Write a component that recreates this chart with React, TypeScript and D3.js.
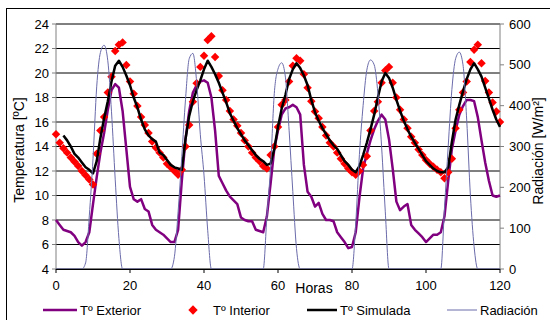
import * as d3 from "d3";
import React from "react";

// hourly series, 0..120 h
const hours = d3.range(0, 121);

const tExterior = [
  8.0, 7.6, 7.2, 7.1, 7.0, 6.7, 6.2, 5.9, 6.2, 7.0,
  9.3, 11.5, 13.5, 15.1, 17.0, 18.6, 19.1, 18.8, 16.9, 13.8,
  10.7, 9.7, 9.5, 9.7, 8.9, 8.7, 7.6, 7.2, 7.0, 6.8,
  6.5, 6.2, 6.2, 7.2, 11.2, 14.6, 16.9, 18.4, 19.0, 19.3,
  19.4, 19.2, 18.0, 15.3, 11.6, 11.0, 10.4, 9.9, 9.6, 9.3,
  8.2, 8.0, 7.9, 7.9, 7.2, 7.1, 7.0, 8.3, 11.0, 13.8,
  15.3, 16.6, 17.1, 17.2, 17.4, 17.2, 16.6, 12.5, 10.3, 9.9,
  9.1, 9.4, 8.5, 8.0, 8.0, 7.9, 7.0, 6.6, 6.2, 5.7,
  5.8, 7.0, 9.8, 12.2, 13.4, 14.5, 15.4, 16.1, 16.6, 16.2,
  14.6, 12.2, 9.5, 8.8, 9.1, 9.3, 7.6, 7.2, 6.9, 6.6,
  6.2, 6.5, 6.8, 6.8, 7.0, 8.3, 11.2, 13.8, 15.3, 16.6,
  17.3, 17.8, 17.8, 17.7, 16.4, 14.5, 12.7, 11.2, 10.0, 9.9,
  10.0,
];

const tInterior = [
  15.0, 14.3, 13.85, 13.5, 13.1, 12.75, 12.4, 12.0, 11.65, 11.3,
  10.9, 13.4, 15.3, 16.4, 18.4, 19.7, 21.8, 22.3, 22.5, 20.65,
  19.3, 18.3, 17.3, 16.4, 15.75, 15.1, 14.4, 13.9, 13.5, 13.1,
  12.6, 12.3, 12.0, 11.7, 12.1, 14.0, 15.75, 17.65, 19.16, 20.5,
  21.4, 22.7, 23.0, 21.3, 19.75, 18.6, 17.8, 16.9, 16.2, 15.7,
  15.1, 14.5, 14.0, 13.5, 13.1, 12.8, 12.4, 12.2, 13.3, 14.0,
  15.6, 17.4, 17.8, 19.3, 20.6, 21.2, 21.0, 19.9, 18.8, 17.7,
  16.85, 16.3, 15.6, 14.9, 14.3, 14.0, 13.5, 13.0, 12.6, 12.2,
  11.9, 11.7, 12.0, 12.5, 13.2, 15.3, 16.9, 17.65, 19.2, 20.2,
  20.5, 19.2, 18.0, 17.0, 16.2, 15.5, 14.8, 14.3, 13.75, 13.3,
  12.9, 12.6, 12.35, 12.1, 11.9, 11.4, 11.9, 13.0, 15.5, 17.0,
  18.4, 19.3, 20.9, 21.9, 22.3, 20.8, 19.35, 18.4, 17.6, 16.85,
  16.0,
];

// simulated series starts at hour 2
const tSimulada = [
  14.9, 14.5, 14.0, 13.4, 13.1, 12.7, 12.3, 12.1,
  11.8, 12.8, 14.7, 16.3, 17.7, 19.3, 20.6, 21.0, 20.5, 19.8,
  19.0, 18.0, 17.2, 16.2, 15.4, 14.9, 14.6, 14.4, 13.5, 13.3,
  12.9, 12.5, 12.3, 12.2, 12.1, 14.6, 16.5, 17.7, 18.6, 19.4,
  20.3, 21.0, 20.5, 19.9, 19.2, 18.4, 17.6, 16.7, 16.1, 15.5,
  15.0, 14.5, 14.1, 13.7, 13.3, 13.0, 12.8, 12.5, 12.6, 13.8,
  15.6, 17.1, 18.2, 19.5, 20.3, 20.8, 20.4, 19.8, 19.0, 17.8,
  16.8, 16.1, 15.5, 15.0, 14.5, 14.1, 13.8, 13.3, 12.8, 12.5,
  12.1, 11.9, 12.4, 13.3, 14.3, 15.4, 16.6, 18.0, 19.3, 20.0,
  19.6, 18.8, 17.8, 16.9, 16.1, 15.4, 14.8, 14.3, 13.8, 13.3,
  12.8, 12.5, 12.2, 12.0, 11.9, 11.9, 12.3, 14.4, 16.2, 17.4,
  18.5, 19.5, 20.3, 20.8, 20.3, 19.7, 18.8, 17.9, 17.0, 16.2,
  15.6,
];

const radiacion = [
  0, 0, 0, 0, 0, 0, 0, 0, 15, 130,
  270, 446, 530, 548, 510, 385, 220, 75, 0, 0,
  0, 0, 0, 0, 0, 0, 0, 0, 0, 0,
  0, 0, 30, 140, 275, 415, 515, 528, 460, 330,
  230, 95, 0, 0, 0, 0, 0, 0, 0, 0,
  0, 0, 0, 0, 0, 0, 0, 128, 250, 430,
  490, 505, 470, 340, 190, 50, 0, 0, 0, 0,
  0, 0, 0, 0, 0, 0, 0, 0, 0, 0,
  0, 110, 280, 400, 487, 512, 500, 430, 300, 140,
  0, 0, 0, 0, 0, 0, 0, 0, 0, 0,
  0, 0, 0, 0, 0, 150, 300, 440, 515, 531,
  500, 365, 180, 55, 0, 0, 0, 0, 0, 0,
  0,
];

const tempTicks = [4, 6, 8, 10, 12, 14, 16, 18, 20, 22, 24];
const radTicks = [0, 100, 200, 300, 400, 500, 600];
const hourTicks = [0, 20, 40, 60, 80, 100, 120];

const FONT = "'Liberation Sans', Arial, sans-serif";
const PURPLE = "#800080";
const RED = "#ff0000";
const RAD = "#6b6bab";

export default function App() {
  const x = d3.scaleLinear().domain([0, 120]).range([56, 500]);
  const y = d3.scaleLinear().domain([4, 24]).range([269, 24]);
  const yR = d3.scaleLinear().domain([0, 600]).range([269, 24]);

  const lineT = d3
    .line<[number, number]>()
    .x((d) => x(d[0]))
    .y((d) => y(d[1]));
  const lineR = d3
    .line<[number, number]>()
    .x((d) => x(d[0]))
    .y((d) => yR(d[1]))
    .curve(d3.curveMonotoneX);

  const ext = hours.map((h, i) => [h, tExterior[i]] as [number, number]);
  const sim = tSimulada.map((v, i) => [hours[i + 2], v] as [number, number]);
  const rad = hours.map((h, i) => [h, radiacion[i]] as [number, number]);
  const diamond = d3.symbol(d3.symbolSquare, 36)() as string;
  const legendDiamond = d3.symbol(d3.symbolSquare, 44)() as string;

  return (
    <svg
      width={550}
      height={320}
      style={{ position: "absolute", left: 0, top: 0, background: "#fff" }}
      fontFamily={FONT}
    >
      <rect x={6.5} y={8.5} width={600} height={400} fill="#fff" stroke="#000" />

      {/* grid */}
      {tempTicks.map((t) => (
        <line key={t} x1={56} x2={500} y1={y(t)} y2={y(t)} stroke="#000" strokeWidth={1} />
      ))}
      <line x1={56} x2={56} y1={24} y2={269} stroke="#808080" />
      <line x1={500} x2={500} y1={24} y2={269} stroke="#808080" />

      {/* left axis */}
      {tempTicks.map((t) => (
        <g key={"l" + t}>
          <line x1={52} x2={56} y1={y(t)} y2={y(t)} stroke="#808080" />
          <text x={49} y={y(t) + 4.5} textAnchor="end" fontSize={13} fill="#000">
            {t}
          </text>
        </g>
      ))}
      {/* right axis */}
      {radTicks.map((r) => (
        <g key={"r" + r}>
          <line x1={500} x2={504} y1={yR(r)} y2={yR(r)} stroke="#808080" />
          <text x={509} y={yR(r) + 4.5} textAnchor="start" fontSize={13} fill="#000">
            {r}
          </text>
        </g>
      ))}
      {/* bottom axis */}
      {hourTicks.map((h) => (
        <g key={"b" + h}>
          <line x1={x(h)} x2={x(h)} y1={269} y2={273} stroke="#000" />
          <text x={x(h)} y={290} textAnchor="middle" fontSize={13} fill="#000">
            {h}
          </text>
        </g>
      ))}

      <text x={314} y={293} textAnchor="middle" fontSize={14}>
        Horas
      </text>
      <text transform="translate(24,150) rotate(-90)" textAnchor="middle" fontSize={14}>
        Temperatura [ºC]
      </text>
      <text transform="translate(543,151) rotate(-90)" textAnchor="middle" fontSize={14}>
        Radiación [W/m²]
      </text>

      {/* series */}
      <path d={lineT(ext) ?? ""} fill="none" stroke={PURPLE} strokeWidth={2.5} strokeLinejoin="round" />
      {hours.map((h, i) => (
        <path
          key={"d" + h}
          d={diamond}
          transform={`translate(${x(h)},${y(tInterior[i])}) rotate(45)`}
          fill={RED}
        />
      ))}
      <path d={lineT(sim) ?? ""} fill="none" stroke="#000" strokeWidth={2.5} strokeLinejoin="round" />
      <path d={lineR(rad) ?? ""} fill="none" stroke={RAD} strokeWidth={1} />
      <line x1={56} x2={500} y1={269.5} y2={269.5} stroke="#000" />

      {/* legend */}
      <line x1={43} x2={77} y1={310} y2={310} stroke={PURPLE} strokeWidth={2.5} />
      <text x={80} y={314.5} fontSize={13}>Tº Exterior</text>
      <path d={legendDiamond} transform="translate(193,310) rotate(45)" fill={RED} />
      <text x={213} y={314.5} fontSize={13}>Tº Interior</text>
      <line x1={307} x2={337} y1={310} y2={310} stroke="#000" strokeWidth={2.5} />
      <text x={340} y={314.5} fontSize={13}>Tº Simulada</text>
      <line x1={447} x2={477} y1={310} y2={310} stroke={RAD} strokeWidth={1} />
      <text x={480} y={314.5} fontSize={13}>Radiación</text>
    </svg>
  );
}
